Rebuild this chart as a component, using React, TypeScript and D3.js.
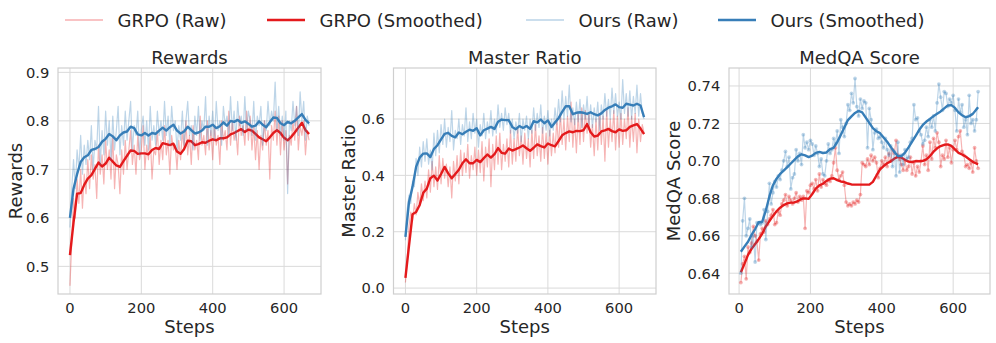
import React from 'react'
import * as d3 from 'd3'

const RED = '#e41a1c'
const BLUE = '#377eb8'
const TEXT = '#262626'
const GRID = '#dadada'
const FONT = '"DejaVu Sans", sans-serif'

const TOP = 68
const BOTTOM = 294

// x positions (training steps)
const rawSteps = d3.range(0, 671, 5)
const smoothSteps = d3.range(0, 671, 10)
const medqaSteps = d3.range(5, 671, 5)
const medqaSmoothSteps = d3.range(5, 671, 10).concat([670])

const legendLabels = ['GRPO (Raw)', 'GRPO (Smoothed)', 'Ours (Raw)', 'Ours (Smoothed)']

// ---- Rewards ----
const rewardsGrpoRaw = [
    0.46, 0.55, 0.64, 0.60, 0.68, 0.63, 0.70, 0.62, 0.69, 0.65, 0.72,
    0.66, 0.73, 0.68, 0.71, 0.64, 0.75, 0.69, 0.73, 0.67, 0.76,
    0.70, 0.74, 0.68, 0.77, 0.66, 0.73, 0.71, 0.65, 0.74, 0.69,
    0.76, 0.70, 0.74, 0.78, 0.71, 0.75, 0.69, 0.77, 0.72, 0.74,
    0.79, 0.70, 0.75, 0.72, 0.77, 0.68, 0.74, 0.73, 0.78, 0.71,
    0.76, 0.72, 0.79, 0.73, 0.76, 0.69, 0.77, 0.74, 0.75, 0.70,
    0.76, 0.72, 0.78, 0.74, 0.80, 0.73, 0.77, 0.71, 0.79, 0.74,
    0.76, 0.72, 0.81, 0.75, 0.77, 0.73, 0.80, 0.74, 0.78, 0.72,
    0.79, 0.75, 0.77, 0.71, 0.80, 0.76, 0.78, 0.74, 0.82, 0.75,
    0.80, 0.76, 0.78, 0.73, 0.81, 0.77, 0.79, 0.75, 0.82, 0.76,
    0.81, 0.74, 0.79, 0.72, 0.78, 0.70, 0.77, 0.74, 0.80, 0.75,
    0.78, 0.68, 0.79, 0.76, 0.82, 0.75, 0.81, 0.73, 0.80, 0.74,
    0.78, 0.67, 0.77, 0.75, 0.80, 0.76, 0.83, 0.74, 0.79, 0.77,
    0.80, 0.73, 0.78, 0.76
]
const rewardsOursRaw = [
    0.58, 0.66, 0.72, 0.66, 0.74, 0.70, 0.77, 0.69, 0.75, 0.71, 0.76,
    0.72, 0.79, 0.70, 0.76, 0.74, 0.83, 0.71, 0.78, 0.73, 0.82,
    0.75, 0.80, 0.72, 0.81, 0.74, 0.78, 0.83, 0.73, 0.79, 0.75,
    0.82, 0.76, 0.80, 0.84, 0.74, 0.79, 0.77, 0.82, 0.73, 0.78,
    0.81, 0.75, 0.80, 0.74, 0.83, 0.76, 0.79, 0.75, 0.82, 0.77,
    0.80, 0.76, 0.84, 0.77, 0.81, 0.75, 0.83, 0.78, 0.80, 0.74,
    0.79, 0.76, 0.82, 0.75, 0.80, 0.84, 0.77, 0.79, 0.74, 0.81,
    0.77, 0.83, 0.76, 0.80, 0.78, 0.85, 0.75, 0.81, 0.77, 0.82,
    0.76, 0.84, 0.78, 0.80, 0.75, 0.83, 0.79, 0.81, 0.77, 0.85,
    0.78, 0.82, 0.76, 0.84, 0.79, 0.81, 0.77, 0.85, 0.78, 0.82,
    0.80, 0.77, 0.84, 0.76, 0.81, 0.79, 0.83, 0.75, 0.80, 0.78,
    0.84, 0.79, 0.82, 0.80, 0.88, 0.78, 0.83, 0.77, 0.81, 0.76,
    0.82, 0.65, 0.80, 0.78, 0.84, 0.79, 0.83, 0.77, 0.86, 0.80,
    0.84, 0.76, 0.81, 0.79
]
const rewardsGrpoSmooth = [
    0.523, 0.59, 0.65, 0.651, 0.668, 0.681, 0.688, 0.701, 0.714, 0.706,
    0.712, 0.724, 0.716, 0.708, 0.705, 0.717, 0.728, 0.739, 0.738, 0.732,
    0.733, 0.733, 0.731, 0.74, 0.744, 0.742, 0.754, 0.752, 0.75, 0.753,
    0.737, 0.732, 0.742, 0.759, 0.758, 0.75, 0.752, 0.756, 0.755, 0.759,
    0.762, 0.76, 0.764, 0.764, 0.766, 0.772, 0.775, 0.779, 0.783, 0.777,
    0.782, 0.78, 0.773, 0.766, 0.762, 0.758, 0.766, 0.775, 0.781, 0.775,
    0.765, 0.76, 0.767, 0.776, 0.786, 0.796, 0.781, 0.773
]
const rewardsOursSmooth = [
    0.60, 0.66, 0.69, 0.715, 0.725, 0.729, 0.74, 0.742, 0.746, 0.757,
    0.763, 0.773, 0.768, 0.76, 0.77, 0.776, 0.778, 0.788, 0.785, 0.772,
    0.77, 0.775, 0.77, 0.775, 0.773, 0.78, 0.786, 0.78, 0.787, 0.792,
    0.78, 0.774, 0.778, 0.788, 0.781, 0.774, 0.776, 0.78, 0.788, 0.788,
    0.792, 0.785, 0.789, 0.797, 0.79, 0.8, 0.798, 0.802, 0.796, 0.799,
    0.794, 0.788, 0.79, 0.799, 0.792, 0.787, 0.797, 0.807, 0.806, 0.795,
    0.791, 0.798, 0.795, 0.8, 0.807, 0.814, 0.802, 0.795
]

// ---- Master Ratio ----
const masterGrpoRaw = [
    0.02, 0.10, 0.22, 0.27, 0.24, 0.30, 0.26, 0.34, 0.29, 0.37, 0.31,
    0.38, 0.32, 0.42, 0.34, 0.45, 0.36, 0.43, 0.35, 0.47, 0.37,
    0.46, 0.39, 0.44, 0.36, 0.43, 0.32, 0.45, 0.38, 0.47, 0.37,
    0.49, 0.40, 0.48, 0.41, 0.51, 0.39, 0.47, 0.42, 0.50, 0.40,
    0.49, 0.41, 0.52, 0.38, 0.50, 0.43, 0.53, 0.36, 0.51, 0.42,
    0.54, 0.44, 0.55, 0.42, 0.51, 0.45, 0.53, 0.43, 0.56, 0.44,
    0.53, 0.45, 0.57, 0.47, 0.54, 0.44, 0.55, 0.46, 0.53, 0.43,
    0.56, 0.46, 0.58, 0.47, 0.54, 0.45, 0.57, 0.46, 0.55, 0.44,
    0.56, 0.47, 0.55, 0.48, 0.60, 0.50, 0.62, 0.51, 0.60, 0.49,
    0.61, 0.52, 0.66, 0.50, 0.60, 0.48, 0.62, 0.51, 0.64, 0.52,
    0.63, 0.55, 0.62, 0.50, 0.58, 0.47, 0.60, 0.49, 0.62, 0.51,
    0.61, 0.45, 0.63, 0.50, 0.60, 0.52, 0.63, 0.49, 0.61, 0.50,
    0.62, 0.51, 0.60, 0.53, 0.64, 0.50, 0.61, 0.52, 0.62, 0.48,
    0.60, 0.52, 0.58, 0.55
]
const masterOursRaw = [
    0.17, 0.28, 0.33, 0.30, 0.38, 0.36, 0.46, 0.40, 0.50, 0.43, 0.52,
    0.45, 0.53, 0.44, 0.49, 0.42, 0.55, 0.47, 0.56, 0.48, 0.58,
    0.51, 0.60, 0.50, 0.57, 0.52, 0.63, 0.49, 0.56, 0.53, 0.60,
    0.51, 0.58, 0.54, 0.64, 0.52, 0.59, 0.53, 0.62, 0.55, 0.60,
    0.50, 0.58, 0.54, 0.62, 0.53, 0.59, 0.55, 0.63, 0.54, 0.60,
    0.55, 0.65, 0.57, 0.62, 0.56, 0.64, 0.58, 0.62, 0.55, 0.60,
    0.53, 0.59, 0.55, 0.62, 0.52, 0.60, 0.56, 0.61, 0.53, 0.60,
    0.55, 0.64, 0.56, 0.62, 0.57, 0.65, 0.55, 0.61, 0.56, 0.63,
    0.54, 0.60, 0.56, 0.64, 0.58, 0.67, 0.59, 0.70, 0.60, 0.68,
    0.61, 0.72, 0.59, 0.64, 0.58, 0.66, 0.59, 0.67, 0.57, 0.65,
    0.60, 0.68, 0.58, 0.65, 0.57, 0.64, 0.59, 0.66, 0.56, 0.65,
    0.60, 0.69, 0.61, 0.67, 0.60, 0.71, 0.62, 0.69, 0.61, 0.66,
    0.60, 0.74, 0.62, 0.69, 0.61, 0.70, 0.60, 0.68, 0.62, 0.72,
    0.61, 0.69, 0.62, 0.60
]
const masterGrpoSmooth = [
    0.036, 0.15, 0.262, 0.27, 0.295, 0.338, 0.353, 0.39, 0.399, 0.382,
    0.405, 0.43, 0.407, 0.39, 0.405, 0.42, 0.443, 0.457, 0.443, 0.443,
    0.455, 0.447, 0.461, 0.474, 0.463, 0.475, 0.497, 0.48, 0.477, 0.495,
    0.488, 0.493, 0.499, 0.506, 0.496, 0.487, 0.498, 0.51, 0.504, 0.499,
    0.513, 0.507, 0.503, 0.522, 0.542, 0.55, 0.556, 0.553, 0.558, 0.557,
    0.56, 0.582, 0.553, 0.538, 0.541, 0.556, 0.56, 0.565, 0.557, 0.553,
    0.563, 0.558, 0.56, 0.572, 0.577, 0.582, 0.566, 0.546
]
const masterOursSmooth = [
    0.182, 0.305, 0.36, 0.43, 0.463, 0.477, 0.478, 0.465, 0.494, 0.507,
    0.528, 0.547, 0.551, 0.54, 0.535, 0.552, 0.546, 0.555, 0.562, 0.558,
    0.567, 0.542, 0.56, 0.566, 0.572, 0.565, 0.59, 0.598, 0.596, 0.596,
    0.572, 0.564, 0.575, 0.568, 0.575, 0.565, 0.592, 0.588, 0.598, 0.585,
    0.595, 0.572, 0.588, 0.603, 0.625, 0.645, 0.645, 0.617, 0.622, 0.624,
    0.622, 0.618, 0.624, 0.617, 0.613, 0.62, 0.632, 0.64, 0.645, 0.652,
    0.642, 0.64, 0.654, 0.651, 0.648, 0.654, 0.648, 0.607
]

// ---- MedQA ----
const medqaGrpoRaw = [
    0.635, 0.645, 0.649, 0.637, 0.654, 0.651, 0.656, 0.665, 0.660, 0.657,
    0.647, 0.661, 0.664, 0.662, 0.668, 0.666, 0.669, 0.671, 0.674, 0.666,
    0.667, 0.673, 0.671, 0.677, 0.679, 0.682, 0.676, 0.681, 0.679, 0.677,
    0.680, 0.683, 0.678, 0.681, 0.679, 0.681, 0.664, 0.684, 0.683, 0.687,
    0.688, 0.685, 0.690, 0.684, 0.693, 0.686, 0.690, 0.688, 0.687, 0.690,
    0.689, 0.692, 0.699, 0.707, 0.695, 0.690, 0.692, 0.694, 0.687, 0.678,
    0.676, 0.677, 0.676, 0.678, 0.677, 0.679, 0.678, 0.682, 0.699, 0.698,
    0.697, 0.701, 0.698, 0.703, 0.700, 0.702, 0.699, 0.691, 0.696, 0.700,
    0.698, 0.702, 0.697, 0.704, 0.700, 0.706, 0.704, 0.711, 0.703, 0.701,
    0.698, 0.695, 0.700, 0.695, 0.697, 0.702, 0.693, 0.699, 0.692, 0.697,
    0.694, 0.700, 0.708, 0.698, 0.703, 0.695, 0.710, 0.701, 0.712, 0.707,
    0.715, 0.710, 0.697, 0.703, 0.701, 0.711, 0.702, 0.707, 0.699, 0.706,
    0.711, 0.706, 0.713, 0.716, 0.705, 0.703, 0.697, 0.698, 0.696, 0.699,
    0.694, 0.707, 0.700, 0.696
]
const medqaOursRaw = [
    0.640, 0.668, 0.680, 0.660, 0.664, 0.669, 0.654, 0.660, 0.646, 0.667,
    0.667, 0.666, 0.667, 0.674, 0.658, 0.673, 0.688, 0.677, 0.683, 0.689,
    0.686, 0.692, 0.690, 0.695, 0.700, 0.705, 0.697, 0.702, 0.685, 0.691,
    0.693, 0.706, 0.700, 0.704, 0.698, 0.714, 0.707, 0.710, 0.706, 0.711,
    0.709, 0.703, 0.708, 0.704, 0.697, 0.701, 0.693, 0.692, 0.700, 0.709,
    0.704, 0.706, 0.712, 0.709, 0.716, 0.704, 0.722, 0.718, 0.713, 0.720,
    0.730, 0.727, 0.736, 0.731, 0.744, 0.729, 0.724, 0.733, 0.728, 0.732,
    0.731, 0.707, 0.728, 0.722, 0.706, 0.715, 0.717, 0.712, 0.713, 0.710,
    0.707, 0.712, 0.706, 0.703, 0.708, 0.697, 0.705, 0.692, 0.710, 0.694,
    0.703, 0.698, 0.706, 0.701, 0.702, 0.710, 0.712, 0.730, 0.722, 0.723,
    0.716, 0.714, 0.709, 0.711, 0.718, 0.713, 0.722, 0.718, 0.724, 0.716,
    0.731, 0.741, 0.734, 0.727, 0.737, 0.736, 0.729, 0.733, 0.731, 0.735,
    0.727, 0.716, 0.733, 0.726, 0.730, 0.718, 0.722, 0.714, 0.735, 0.720,
    0.722, 0.716, 0.722, 0.737
]
const medqaGrpoSmooth = [
    0.6405, 0.645, 0.6498, 0.653, 0.6556, 0.6582, 0.6612, 0.665, 0.6678, 0.6706,
    0.6731, 0.675, 0.6764, 0.6773, 0.6777, 0.6778, 0.6785, 0.6798, 0.68, 0.6797,
    0.6823, 0.6852, 0.6869, 0.6878, 0.6893, 0.6905, 0.6907, 0.6897, 0.689, 0.6887,
    0.6879, 0.6874, 0.6873, 0.6873, 0.6873, 0.6873, 0.6873, 0.6888, 0.6922, 0.6954,
    0.6972, 0.6987, 0.6997, 0.7012, 0.7021, 0.7017, 0.7006, 0.6996, 0.6994, 0.6999,
    0.6998, 0.7, 0.7008, 0.7026, 0.7049, 0.7067, 0.7079, 0.7086, 0.7088, 0.708,
    0.7061, 0.7043, 0.7034, 0.7023, 0.7009, 0.6995, 0.6986, 0.6983
]
const medqaOursSmooth = [
    0.6515, 0.6542, 0.6568, 0.6605, 0.6636, 0.6672, 0.6675, 0.6735, 0.681, 0.687,
    0.6905, 0.693, 0.6948, 0.6966, 0.6986, 0.7005, 0.7024, 0.7035, 0.7029, 0.702,
    0.7028, 0.7043, 0.7048, 0.7042, 0.7045, 0.7063, 0.707, 0.71, 0.7138, 0.7178,
    0.7218, 0.7238, 0.7256, 0.7267, 0.7259, 0.7231, 0.7203, 0.7175, 0.7158, 0.7148,
    0.7125, 0.7102, 0.7075, 0.7048, 0.7026, 0.7026, 0.7044, 0.7072, 0.7103, 0.7134,
    0.7166, 0.7192, 0.721, 0.7224, 0.7239, 0.7252, 0.7264, 0.728, 0.7296, 0.7298,
    0.7283, 0.7259, 0.7244, 0.7233, 0.7239, 0.7251, 0.7275, 0.7286
]

type Series = {
    steps: number[],
    values: number[],
    color: string,
    width: number,
    opacity: number,
    markers?: boolean
}

type PanelProps = {
    left: number,
    right: number,
    title: string,
    ylabel: string,
    ylabelX: number,
    xDomain: [number, number],
    yDomain: [number, number],
    yTicks: number[],
    fmt: string,
    series: Series[]
}

const xTicks = [0, 200, 400, 600]

function Panel({ left, right, title, ylabel, ylabelX, xDomain, yDomain, yTicks, fmt, series }: PanelProps) {
    const x = d3.scaleLinear().domain(xDomain).range([left, right])
    const y = d3.scaleLinear().domain(yDomain).range([BOTTOM, TOP])
    const format = d3.format(fmt)
    const line = d3.line<[number, number]>()
        .x((d) => x(d[0]))
        .y((d) => y(d[1]))
    const midY = (TOP + BOTTOM) / 2

    return (
        <g>
            {/* grid */}
            {xTicks.map((t) => (
                <line key={'gx' + t} x1={x(t)} x2={x(t)} y1={TOP} y2={BOTTOM} stroke={GRID} strokeWidth={1} />
            ))}
            {yTicks.map((t) => (
                <line key={'gy' + t} x1={left} x2={right} y1={y(t)} y2={y(t)} stroke={GRID} strokeWidth={1} />
            ))}

            {/* data */}
            {series.map((s, i) => {
                const pts = s.steps.map((st, j) => [st, s.values[j]] as [number, number])
                return (
                    <g key={i}>
                        <path d={line(pts) || ''} fill="none" stroke={s.color} strokeWidth={s.width}
                            strokeOpacity={s.opacity} strokeLinejoin="round" />
                        {s.markers && pts.map((p, j) => (
                            <circle key={j} cx={x(p[0])} cy={y(p[1])} r={1.9} fill={s.color} fillOpacity={s.opacity} />
                        ))}
                    </g>
                )
            })}

            {/* frame */}
            <rect x={left} y={TOP} width={right - left} height={BOTTOM - TOP} fill="none" stroke="#cfcfcf" strokeWidth={1.2} />

            {/* tick labels */}
            {xTicks.map((t) => (
                <text key={'tx' + t} x={x(t)} y={313} textAnchor="middle" fontSize={14.7} fill={TEXT}>{t}</text>
            ))}
            {yTicks.map((t) => (
                <text key={'ty' + t} x={left - 8.7} y={y(t) + 5.3} textAnchor="end" fontSize={14.7} fill={TEXT}>{format(t)}</text>
            ))}

            <text x={(left + right) / 2} y={64} textAnchor="middle" fontSize={18} fill={TEXT}>{title}</text>
            <text x={(left + right) / 2} y={333} textAnchor="middle" fontSize={18} fill={TEXT}>Steps</text>
            <text transform={`translate(${ylabelX},${midY}) rotate(-90)`} textAnchor="middle" fontSize={18} fill={TEXT}>{ylabel}</text>
        </g>
    )
}

function rawAndSmooth(
    rawX: number[], grpoRaw: number[], oursRaw: number[],
    smoothX: number[], grpoSmooth: number[], oursSmooth: number[],
    markers: boolean
): Series[] {
    return [
        { steps: rawX, values: grpoRaw, color: RED, width: 1.2, opacity: 0.33, markers },
        { steps: smoothX, values: grpoSmooth, color: RED, width: 2.4, opacity: 1 },
        { steps: rawX, values: oursRaw, color: BLUE, width: 1.2, opacity: 0.33, markers },
        { steps: smoothX, values: oursSmooth, color: BLUE, width: 2.4, opacity: 1 }
    ]
}

function Legend() {
    const lines = [65, 267, 526, 718]
    const styles = [
        { color: RED, width: 1.5, opacity: 0.35 },
        { color: RED, width: 2.4, opacity: 1 },
        { color: BLUE, width: 1.5, opacity: 0.35 },
        { color: BLUE, width: 2.4, opacity: 1 }
    ]
    return (
        <g>
            {legendLabels.map((label, i) => (
                <g key={label}>
                    <line x1={lines[i]} x2={lines[i] + 38} y1={20} y2={20}
                        stroke={styles[i].color} strokeWidth={styles[i].width} strokeOpacity={styles[i].opacity} />
                    <text x={lines[i] + 52.5} y={27} fontSize={18} fill={TEXT}>{label}</text>
                </g>
            ))}
        </g>
    )
}

export default function App() {
    return (
        <div style={{ position: 'fixed', left: 0, top: 0 }}>
            <svg width={996} height={343} style={{ display: 'block', background: '#fff', fontFamily: FONT }}>
                <Legend />
                <Panel
                    left={58} right={321}
                    title="Rewards" ylabel="Rewards" ylabelX={21.7}
                    xDomain={[-33.5, 703.5]} yDomain={[0.443, 0.909]}
                    yTicks={[0.5, 0.6, 0.7, 0.8, 0.9]} fmt=".1f"
                    series={rawAndSmooth(rawSteps, rewardsGrpoRaw, rewardsOursRaw, smoothSteps, rewardsGrpoSmooth, rewardsOursSmooth, false)}
                />
                <Panel
                    left={393.5} right={656}
                    title="Master Ratio" ylabel="Master Ratio" ylabelX={355}
                    xDomain={[-33.5, 703.5]} yDomain={[-0.021, 0.781]}
                    yTicks={[0, 0.2, 0.4, 0.6]} fmt=".1f"
                    series={rawAndSmooth(rawSteps, masterGrpoRaw, masterOursRaw, smoothSteps, masterGrpoSmooth, masterOursSmooth, false)}
                />
                <Panel
                    left={729} right={990}
                    title="MedQA Score" ylabel="MedQA Score" ylabelX={680}
                    xDomain={[-28.25, 703.25]} yDomain={[0.6289, 0.7496]}
                    yTicks={[0.64, 0.66, 0.68, 0.7, 0.72, 0.74]} fmt=".2f"
                    series={rawAndSmooth(medqaSteps, medqaGrpoRaw, medqaOursRaw, medqaSmoothSteps, medqaGrpoSmooth, medqaOursSmooth, true)}
                />
            </svg>
        </div>
    )
}
